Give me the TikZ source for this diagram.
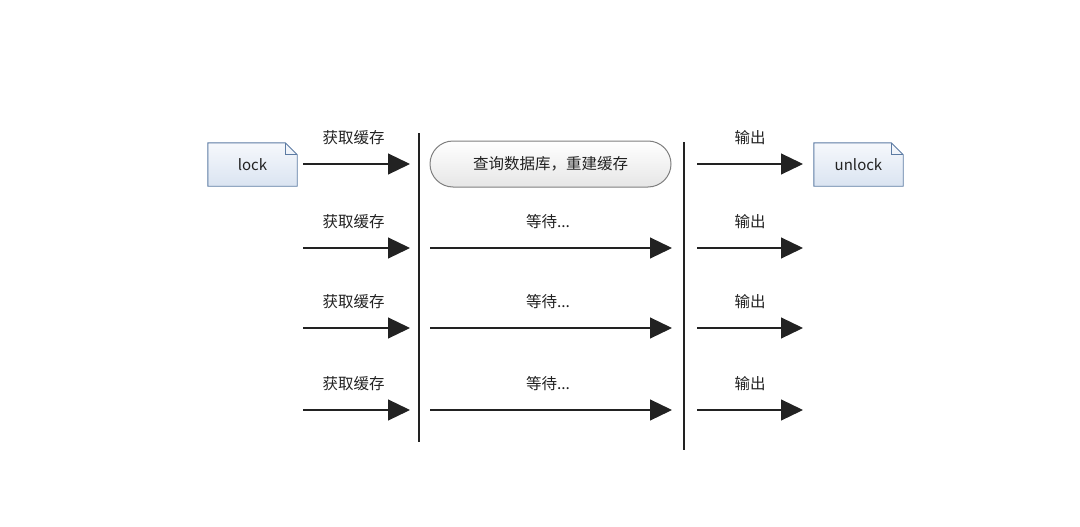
\documentclass[tikz,border=0pt]{standalone}
\usepackage{fontspec}
\setmainfont{Noto Sans CJK SC}
\usepackage{tikz}
\usetikzlibrary{arrows.meta,positioning,calc,backgrounds}
\usepackage{xcolor}
\definecolor{ink}{HTML}{222222}
\definecolor{noteline}{HTML}{5C7BA3}
\definecolor{notetop}{HTML}{F6F8FC}
\definecolor{notebot}{HTML}{DAE4F1}
\definecolor{boxline}{HTML}{7F7F7F}
\definecolor{boxbot}{HTML}{E6E6E6}

\tikzset{
  note/.style={minimum width=89pt, minimum height=43pt, inner sep=0pt, text=ink, font=\fontsize{15}{18}\selectfont},
  flow/.style={-{Triangle[length=22pt,width=21pt]}, line width=1.2pt, ink},
  lbl/.style={above=15pt, text=ink, font=\fontsize{15.5}{18}\selectfont},
  bar/.style={line width=1.3pt, ink},
}

% folded note drawn behind a node
\newcommand{\dogear}[1]{%
  \begin{scope}[on background layer]
    \draw[noteline, line width=0.9pt, top color=notetop, bottom color=notebot]
      (#1.north west) -- ([xshift=-12pt]#1.north east) -- ([yshift=-12pt]#1.north east)
      -- (#1.south east) -- (#1.south west) -- cycle;
    \draw[noteline, line width=0.9pt] ([xshift=-12pt]#1.north east) |- ([yshift=-12pt]#1.north east);
  \end{scope}}

\begin{document}
\begin{tikzpicture}[x=1pt, y=-1pt]
  \useasboundingbox (0,0) rectangle (1080,527);

  % notes and query box
  \node[note] (lock) at (252.5, 164.5) {lock};
  \dogear{lock}
  \node[note] (unlock) at (858.5, 164.5) {unlock};
  \dogear{unlock}
  \node[draw=boxline, line width=1pt, top color=white, bottom color=boxbot, rounded corners=23pt,
        minimum width=241pt, minimum height=46pt, text=ink, font=\fontsize{15.5}{18}\selectfont]
        (query) at (550.5, 164) {查询数据库，重建缓存};

  % the two bars
  \coordinate (bar1top) at (419, 133);
  \coordinate (bar1bot) at (419, 442);
  \coordinate (bar2top) at (684, 142);
  \coordinate (bar2bot) at (684, 450);
  \draw[bar] (bar1top) -- (bar1bot);
  \draw[bar] (bar2top) -- (bar2bot);

  % row ends
  \coordinate (a1) at (303, 164);  \coordinate (b1) at (410, 164);
  \coordinate (e1) at (697, 164);  \coordinate (f1) at (803, 164);
  \coordinate (a2) at (303, 248);  \coordinate (b2) at (410, 248);
  \coordinate (c2) at (430, 248);  \coordinate (d2) at (672, 248);
  \coordinate (e2) at (697, 248);  \coordinate (f2) at (803, 248);
  \coordinate (a3) at (303, 328);  \coordinate (b3) at (410, 328);
  \coordinate (c3) at (430, 328);  \coordinate (d3) at (672, 328);
  \coordinate (e3) at (697, 328);  \coordinate (f3) at (803, 328);
  \coordinate (a4) at (303, 410);  \coordinate (b4) at (410, 410);
  \coordinate (c4) at (430, 410);  \coordinate (d4) at (672, 410);
  \coordinate (e4) at (697, 410);  \coordinate (f4) at (803, 410);

  % first row
  \draw[flow] (a1) -- node[lbl, xshift=-3pt] {获取缓存} (b1);
  \draw[flow] (e1) -- node[lbl] {输出} (f1);

  % waiting rows
  \draw[flow] (a2) -- node[lbl, xshift=-3pt] {获取缓存} (b2);
  \draw[flow] (c2) -- node[lbl, xshift=-3pt] {等待...} (d2);
  \draw[flow] (e2) -- node[lbl] {输出} (f2);

  \draw[flow] (a3) -- node[lbl, xshift=-3pt] {获取缓存} (b3);
  \draw[flow] (c3) -- node[lbl, xshift=-3pt] {等待...} (d3);
  \draw[flow] (e3) -- node[lbl] {输出} (f3);

  \draw[flow] (a4) -- node[lbl, xshift=-3pt] {获取缓存} (b4);
  \draw[flow] (c4) -- node[lbl, xshift=-3pt] {等待...} (d4);
  \draw[flow] (e4) -- node[lbl] {输出} (f4);
\end{tikzpicture}
\end{document}
